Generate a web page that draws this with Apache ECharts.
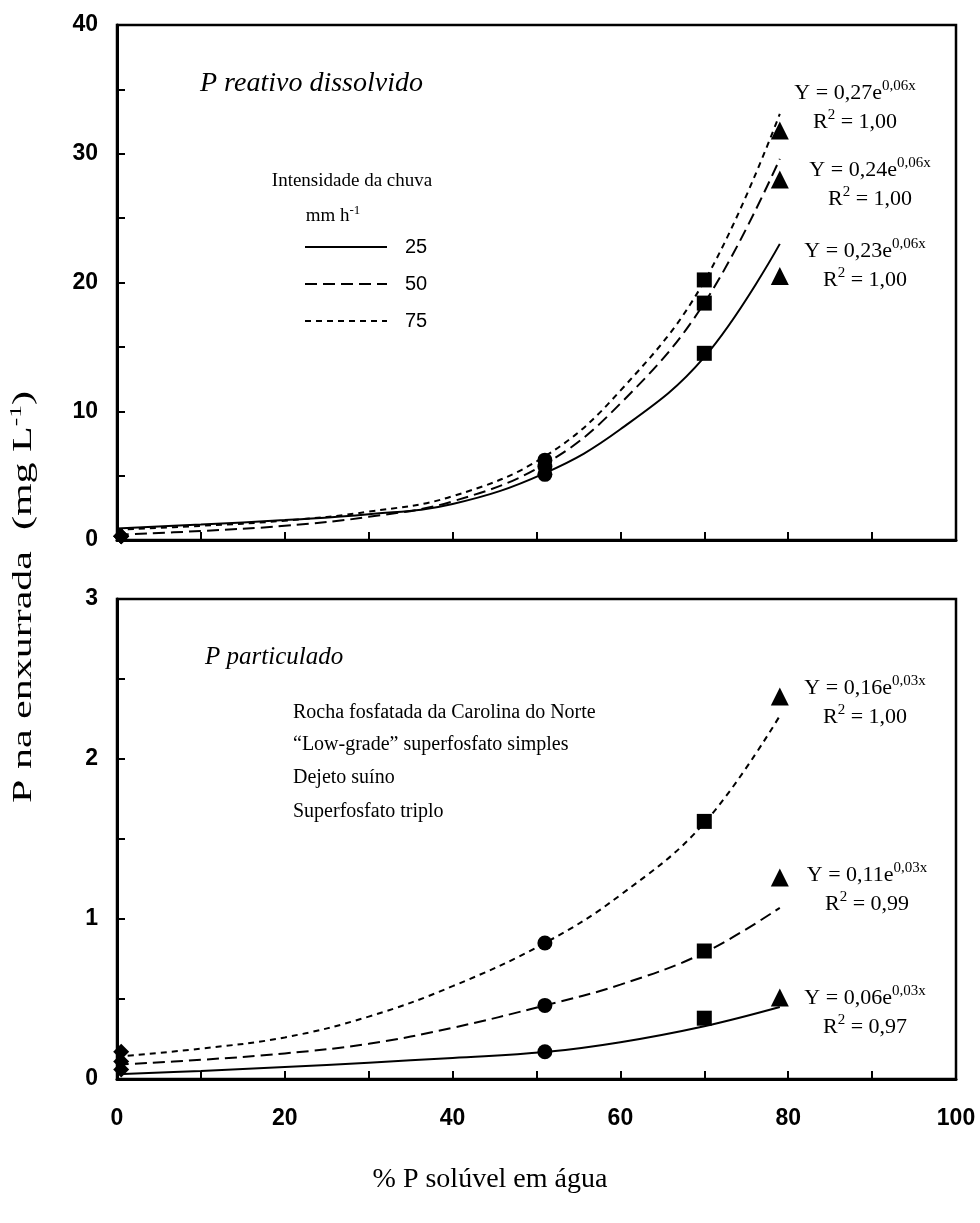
<!DOCTYPE html>
<html>
<head>
<meta charset="utf-8">
<script src="https://cdn.jsdelivr.net/npm/echarts@6/dist/echarts.min.js"></script>
<style>
  html, body { margin: 0; padding: 0; background: #fff; }
  #chart { width: 980px; height: 1223px; }
</style>
</head>
<body>
<div id="chart"></div>
<script>
// % water-soluble P of each phosphate source
const sources = ['Rocha fosfatada da Carolina do Norte', '“Low-grade” superfosfato simples', 'Dejeto suíno', 'Superfosfato triplo'];
const solubleP = [0.5, 51, 70, 79];
const sourceSymbols = ['diamond', 'circle', 'rect', 'triangle'];
const sourceSizes = [16, 15, 15, 18];

// rainfall intensities (mm/h)
const intensities = ['25', '50', '75'];

// dissolved reactive P (mg/L), one value per source
const rdp25 = [0.3, 5.1, 14.5, 20.5];
const rdp50 = [0.3, 5.7, 18.4, 28.0];
const rdp75 = [0.3, 6.2, 20.2, 31.8];

// particulate P (mg/L), one value per source
const pp25 = [0.06, 0.17, 0.38, 0.51];
const pp50 = [0.11, 0.46, 0.80, 1.26];
const pp75 = [0.17, 0.85, 1.61, 2.39];

// fitted exponential curves, sampled along x
const fitX = [0, 10, 20, 30, 40, 51, 60, 70, 79];
const rdpFit25 = [0.9, 1.2, 1.55, 2.0, 2.8, 5.2, 8.6, 14.2, 23.0];
const rdpFit50 = [0.4, 0.7, 1.1, 1.8, 3.0, 5.9, 10.6, 18.4, 29.6];
const rdpFit75 = [0.8, 1.1, 1.5, 2.2, 3.4, 6.5, 11.6, 20.1, 33.1];
const ppFit25 = [0.03, 0.05, 0.075, 0.102, 0.132, 0.168, 0.23, 0.33, 0.45];
const ppFit50 = [0.09, 0.12, 0.16, 0.22, 0.32, 0.46, 0.59, 0.79, 1.07];
const ppFit75 = [0.14, 0.19, 0.26, 0.39, 0.58, 0.85, 1.15, 1.60, 2.27];

// fit equations
const rdpEq = [['0,27', '0,06x', '1,00'], ['0,24', '0,06x', '1,00'], ['0,23', '0,06x', '1,00']];
const ppEq = [['0,16', '0,03x', '1,00'], ['0,11', '0,03x', '0,99'], ['0,06', '0,03x', '0,97']];

// tick labels
const xTickLabels = [0, 20, 40, 60, 80, 100];
const rdpTickLabels = [0, 10, 20, 30, 40];
const ppTickLabels = [0, 1, 2, 3];

const SERIF = '"Liberation Serif", "Times New Roman", serif';
const SANS = '"Liberation Sans", Arial, sans-serif';
const lineTypes = ['solid', [12, 6], [6, 5]];

const chart = echarts.init(document.getElementById('chart'), null, { renderer: 'canvas' });

function makeX(gridIndex, showLabels) {
  return {
    type: 'value', gridIndex, min: 0, max: 100, interval: 10,
    axisLine: { show: true, onZero: false, lineStyle: { color: '#000', width: 3 } },
    axisTick: { show: true, inside: true, length: 8, lineStyle: { color: '#000', width: 2 } },
    axisLabel: {
      show: showLabels, margin: 28, color: '#000', fontFamily: SANS, fontWeight: 'bold', fontSize: 23,
      formatter: v => (xTickLabels.indexOf(v) >= 0 ? String(v) : '')
    },
    splitLine: { show: false }
  };
}
function makeY(gridIndex, max, interval, labels) {
  return {
    type: 'value', gridIndex, min: 0, max, interval,
    axisLine: { show: true, onZero: false, lineStyle: { color: '#000', width: 3 } },
    axisTick: { show: true, inside: true, length: 8, lineStyle: { color: '#000', width: 2 } },
    axisLabel: {
      margin: 19, color: '#000', fontFamily: SANS, fontWeight: 'bold', fontSize: 23,
      formatter: v => (labels.indexOf(v) >= 0 ? String(v) : '')
    },
    splitLine: { show: false }
  };
}

function fitSeries(gridIndex, ys, k) {
  return {
    type: 'line', xAxisIndex: gridIndex, yAxisIndex: gridIndex,
    data: fitX.map((x, i) => [x, ys[i]]),
    smooth: 0.4, symbol: 'none', silent: true, z: 2,
    lineStyle: { color: '#000', width: 2, type: lineTypes[k] }
  };
}
function pointSeries(gridIndex, sets) {
  // one scatter series per phosphate source
  return sources.map((name, s) => ({
    type: 'scatter', name, xAxisIndex: gridIndex, yAxisIndex: gridIndex,
    symbol: sourceSymbols[s], symbolSize: sourceSizes[s],
    itemStyle: { color: '#000', opacity: 1 }, z: 3,
    data: sets.map(arr => [solubleP[s], arr[s]])
  }));
}

function eqText(x, y, eq) {
  return {
    type: 'text', x, y, z: 10,
    style: {
      text: '{a|Y = ' + eq[0] + 'e}{s|' + eq[1] + '}\n{b|R}{t|2}{b| = ' + eq[2] + '}',
      fill: '#000', align: 'center',
      rich: {
        a: { fontFamily: SERIF, fontSize: 22, lineHeight: 29, fill: '#000' },
        b: { fontFamily: SERIF, fontSize: 22, lineHeight: 29, fill: '#000' },
        s: { fontFamily: SERIF, fontSize: 15, lineHeight: 14, verticalAlign: 'top', fill: '#000' },
        t: { fontFamily: SERIF, fontSize: 15, lineHeight: 14, verticalAlign: 'top', fill: '#000' }
      }
    }
  };
}

const graphics = [];
// panel titles
graphics.push({ type: 'text', x: 200, y: 70, style: { text: 'P reativo dissolvido', fontFamily: SERIF, fontStyle: 'italic', fontSize: 28, fill: '#000' } });
graphics.push({ type: 'text', x: 205, y: 645, style: { text: 'P particulado', fontFamily: SERIF, fontStyle: 'italic', fontSize: 25, fill: '#000' } });

// rainfall intensity key
graphics.push({ type: 'text', x: 352, y: 172, style: { text: 'Intensidade da chuva', align: 'center', fontFamily: SERIF, fontSize: 19, fill: '#000' } });
graphics.push({ type: 'text', x: 333, y: 204, style: {
  text: '{a|mm h}{s|-1}', align: 'center',
  rich: { a: { fontFamily: SERIF, fontSize: 19, lineHeight: 24, fill: '#000' }, s: { fontFamily: SERIF, fontSize: 13, lineHeight: 13, verticalAlign: 'top', fill: '#000' } }
} });
const keyY = [247, 284, 321];
intensities.forEach((lab, k) => {
  graphics.push({ type: 'line', shape: { x1: 305, y1: keyY[k], x2: 387, y2: keyY[k] }, style: { stroke: '#000', lineWidth: 2, lineDash: k === 0 ? null : lineTypes[k] } });
  graphics.push({ type: 'text', x: 405, y: keyY[k] - 10, style: { text: lab, fontFamily: SANS, fontSize: 20, fill: '#000' } });
});

// source list
const srcY = [703, 735, 768, 802];
sources.forEach((name, s) => {
  graphics.push({ type: 'text', x: 293, y: srcY[s], style: { text: name, fontFamily: SERIF, fontSize: 20, fill: '#000' } });
});

// equations, dissolved reactive P
graphics.push(eqText(855, 79, rdpEq[0]));
graphics.push(eqText(870, 156, rdpEq[1]));
graphics.push(eqText(865, 237, rdpEq[2]));
// equations, particulate P
graphics.push(eqText(865, 674, ppEq[0]));
graphics.push(eqText(867, 861, ppEq[1]));
graphics.push(eqText(865, 984, ppEq[2]));

// axis titles
graphics.push({ type: 'text', x: 490, y: 1180, style: { text: '% P solúvel em água', align: 'center', verticalAlign: 'middle', fontFamily: SERIF, fontSize: 28, fill: '#000' } });
graphics.push({ type: 'text', x: 24, y: 597, rotation: Math.PI / 2, scaleX: 1.5, style: {
  text: '{a|P na enxurrada  (mg L}{s|-1}{a|)}', align: 'center', verticalAlign: 'middle',
  rich: { a: { fontFamily: SERIF, fontSize: 28, lineHeight: 32, fill: '#000' }, s: { fontFamily: SERIF, fontSize: 17, lineHeight: 17, verticalAlign: 'top', fill: '#000' } }
} });

const option = {
  backgroundColor: '#fff',
  animation: false,
  grid: [
    { left: 117, top: 25, width: 839, height: 515, show: true, borderColor: '#000', borderWidth: 2.5, backgroundColor: 'transparent' },
    { left: 117, top: 599, width: 839, height: 480, show: true, borderColor: '#000', borderWidth: 2.5, backgroundColor: 'transparent' }
  ],
  xAxis: [makeX(0, false), makeX(1, true)],
  yAxis: [makeY(0, 40, 5, rdpTickLabels), makeY(1, 3, 0.5, ppTickLabels)],
  series: [
    fitSeries(0, rdpFit25, 0), fitSeries(0, rdpFit50, 1), fitSeries(0, rdpFit75, 2),
    fitSeries(1, ppFit25, 0), fitSeries(1, ppFit50, 1), fitSeries(1, ppFit75, 2),
    ...pointSeries(0, [rdp25, rdp50, rdp75]),
    ...pointSeries(1, [pp25, pp50, pp75])
  ],
  graphic: graphics
};
chart.setOption(option);
</script>
</body>
</html>
